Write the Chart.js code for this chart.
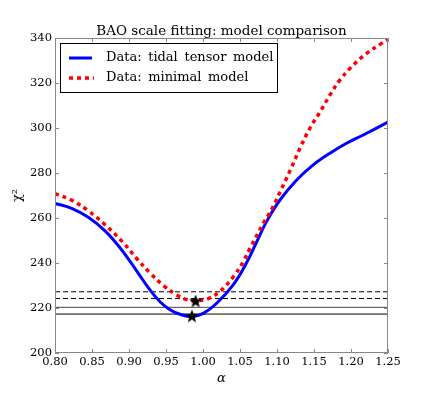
<!DOCTYPE html>
<html>
<head>
<meta charset="utf-8">
<script src="https://cdn.jsdelivr.net/npm/chart.js@4"></script>
<style>
  html, body { margin: 0; padding: 0; background: #fff; }
  #wrap { width: 432px; height: 393px; }
</style>
</head>
<body>
<div id="wrap"><canvas id="grafico" width="432" height="393"></canvas></div>
<script>
// curva del modelo tidal tensor (azul)
const alphaTidal = [0.80, 0.8225, 0.845, 0.8676, 0.8878, 0.9014, 0.9149, 0.9284, 0.9419, 0.9554, 0.9689, 0.985, 1.0004, 1.0185, 1.041, 1.059, 1.072, 1.086, 1.104, 1.1266, 1.149, 1.1716, 1.194, 1.2166, 1.25];
const chi2Tidal  = [266.5, 264.3, 260.3, 254.3, 246.8, 240.7, 234.3, 228.0, 222.8, 219.2, 217.2, 216.2, 217.6, 222.1, 230.4, 240.2, 249.0, 258.5, 268.0, 276.9, 283.6, 288.8, 293.2, 296.9, 302.6];

// curva del modelo minimal (rojo punteado)
const alphaMinimal = [0.80, 0.8225, 0.845, 0.8676, 0.8923, 0.9104, 0.9284, 0.9464, 0.9645, 0.978, 0.99, 1.0072, 1.023, 1.041, 1.0545, 1.0635, 1.0815, 1.0928, 1.104, 1.1176, 1.131, 1.1446, 1.158, 1.1716, 1.185, 1.1986, 1.2212, 1.2415, 1.25];
const chi2Minimal  = [270.8, 267.9, 263.2, 257.0, 249.0, 242.0, 235.6, 230.0, 225.8, 223.7, 223.2, 224.2, 227.4, 233.9, 240.6, 246.5, 257.6, 263.8, 271.5, 281.0, 291.0, 300.0, 307.0, 314.7, 321.3, 326.5, 333.2, 337.6, 339.3];

// minimos (estrellas)
const bestAlpha = [0.985, 0.99];
const bestChi2  = [216.2, 222.9];

// niveles horizontales
const levelsTidal   = [217.3, 220.3];
const levelsMinimal = [224.2, 227.2];

const xRange = [0.80, 1.25];
const yRange = [200, 340];

const titulo = 'BAO scale fitting: model comparison';
const labelTidal = 'Data: tidal tensor model';
const labelMinimal = 'Data: minimal model';

const SERIF = '"DejaVu Serif", "Liberation Serif", serif';

function toPoints(xs, ys) {
  return xs.map((x, i) => ({ x: x, y: ys[i] }));
}

function hline(v, dash, color) {
  return {
    data: [{ x: xRange[0], y: v }, { x: xRange[1], y: v }],
    borderColor: color,
    borderWidth: 1,
    borderDash: dash,
    pointRadius: 0,
    tension: 0
  };
}

function makeStar(r) {
  const c = document.createElement('canvas');
  c.width = c.height = 2 * r + 2;
  const g = c.getContext('2d');
  g.beginPath();
  for (let i = 0; i < 10; i++) {
    const a = -Math.PI / 2 + i * Math.PI / 5;
    const rr = i % 2 ? r * 0.42 : r;
    g.lineTo(r + 1 + rr * Math.cos(a), r + 1 + rr * Math.sin(a));
  }
  g.closePath();
  g.fillStyle = '#000';
  g.fill();
  return c;
}
const estrella = makeStar(7);

const marco = {
  id: 'marco',
  afterDatasetsDraw(chart) {
    const ctx = chart.ctx;
    const a = chart.chartArea;
    const xs = chart.scales.x, ys = chart.scales.y;
    ctx.save();
    ctx.strokeStyle = '#888';
    ctx.lineWidth = 1;
    ctx.strokeRect(a.left + 0.5, a.top + 0.5, a.right - a.left - 1, a.bottom - a.top - 1);
    ctx.beginPath();
    xs.ticks.forEach(t => {
      const px = Math.round(xs.getPixelForValue(t.value)) + 0.5;
      ctx.moveTo(px, a.bottom); ctx.lineTo(px, a.bottom - 4);
      ctx.moveTo(px, a.top); ctx.lineTo(px, a.top + 4);
    });
    ys.ticks.forEach(t => {
      const py = Math.round(ys.getPixelForValue(t.value)) + 0.5;
      ctx.moveTo(a.left, py); ctx.lineTo(a.left + 4, py);
      ctx.moveTo(a.right, py); ctx.lineTo(a.right - 4, py);
    });
    ctx.stroke();

    // titulo
    ctx.fillStyle = '#000';
    ctx.font = '13.5px ' + SERIF;
    ctx.textAlign = 'center';
    ctx.textBaseline = 'alphabetic';
    ctx.fillText(titulo, (a.left + a.right) / 2, a.top - 3);

    // leyenda
    const lx = a.left + 5, ly = a.top + 5, lw = 217, lh = 49;
    ctx.fillStyle = '#fff';
    ctx.fillRect(lx, ly, lw, lh);
    ctx.strokeStyle = '#000';
    ctx.strokeRect(lx + 0.5, ly + 0.5, lw, lh);
    ctx.lineWidth = 3;
    ctx.strokeStyle = '#0000ff';
    ctx.beginPath(); ctx.moveTo(lx + 9, ly + 15); ctx.lineTo(lx + 32, ly + 15); ctx.stroke();
    ctx.lineWidth = 3.5;
    ctx.strokeStyle = '#ff0000';
    ctx.setLineDash([4, 4]);
    ctx.beginPath(); ctx.moveTo(lx + 9, ly + 35); ctx.lineTo(lx + 34, ly + 35); ctx.stroke();
    ctx.setLineDash([]);
    ctx.fillStyle = '#000';
    ctx.textAlign = 'left';
    ctx.textBaseline = 'middle';
    ctx.font = '13px ' + SERIF;
    ctx.wordSpacing = '2.5px';
    ctx.fillText(labelTidal, lx + 46, ly + 15);
    ctx.fillText(labelMinimal, lx + 46, ly + 35);
    ctx.restore();
  }
};

const ctx = document.getElementById('grafico').getContext('2d');
const grafico = new Chart(ctx, {
  type: 'line',
  data: {
    datasets: [
      {
        data: toPoints(bestAlpha, bestChi2),
        showLine: false,
        pointStyle: estrella,
        pointRadius: 7
      },
      {
        data: toPoints(alphaMinimal, chi2Minimal),
        borderColor: '#ff0000',
        borderWidth: 3.5,
        borderDash: [4, 4],
        pointRadius: 0,
        tension: 0.4
      },
      {
        data: toPoints(alphaTidal, chi2Tidal),
        borderColor: '#0000ff',
        borderWidth: 3,
        pointRadius: 0,
        tension: 0.4
      },
      hline(levelsTidal[0], [], '#000'),
      hline(levelsTidal[1], [], '#444'),
      hline(levelsMinimal[0], [5, 3], '#000'),
      hline(levelsMinimal[1], [5, 3], '#000')
    ]
  },
  options: {
    responsive: false,
    animation: false,
    layout: { padding: { top: 38, right: 44, left: 0, bottom: 0 } },
    plugins: {
      legend: { display: false },
      tooltip: { enabled: false },
      title: { display: false }
    },
    scales: {
      x: {
        type: 'linear',
        min: xRange[0],
        max: xRange[1],
        grid: { display: false, drawTicks: false },
        border: { display: false },
        ticks: {
          stepSize: 0.05,
          padding: 2,
          color: '#000',
          font: { family: SERIF, size: 11.5 },
          maxRotation: 0,
          callback: v => v.toFixed(2)
        },
        title: {
          display: true,
          text: 'α',
          color: '#000',
          font: { family: SERIF, size: 13, style: 'italic' },
          padding: { top: 0, bottom: 7 }
        },
        afterFit: s => { s.height = 40; }
      },
      y: {
        min: yRange[0],
        max: yRange[1],
        grid: { display: false, drawTicks: false },
        border: { display: false },
        ticks: {
          stepSize: 20,
          padding: 3,
          color: '#000',
          font: { family: SERIF, size: 11.5 }
        },
        title: {
          display: true,
          text: 'χ²',
          color: '#000',
          font: { family: SERIF, size: 13 },
          padding: { top: 10, bottom: 0 }
        },
        afterFit: s => { s.width = 55; }
      }
    }
  },
  plugins: [marco]
});
</script>
</body>
</html>
